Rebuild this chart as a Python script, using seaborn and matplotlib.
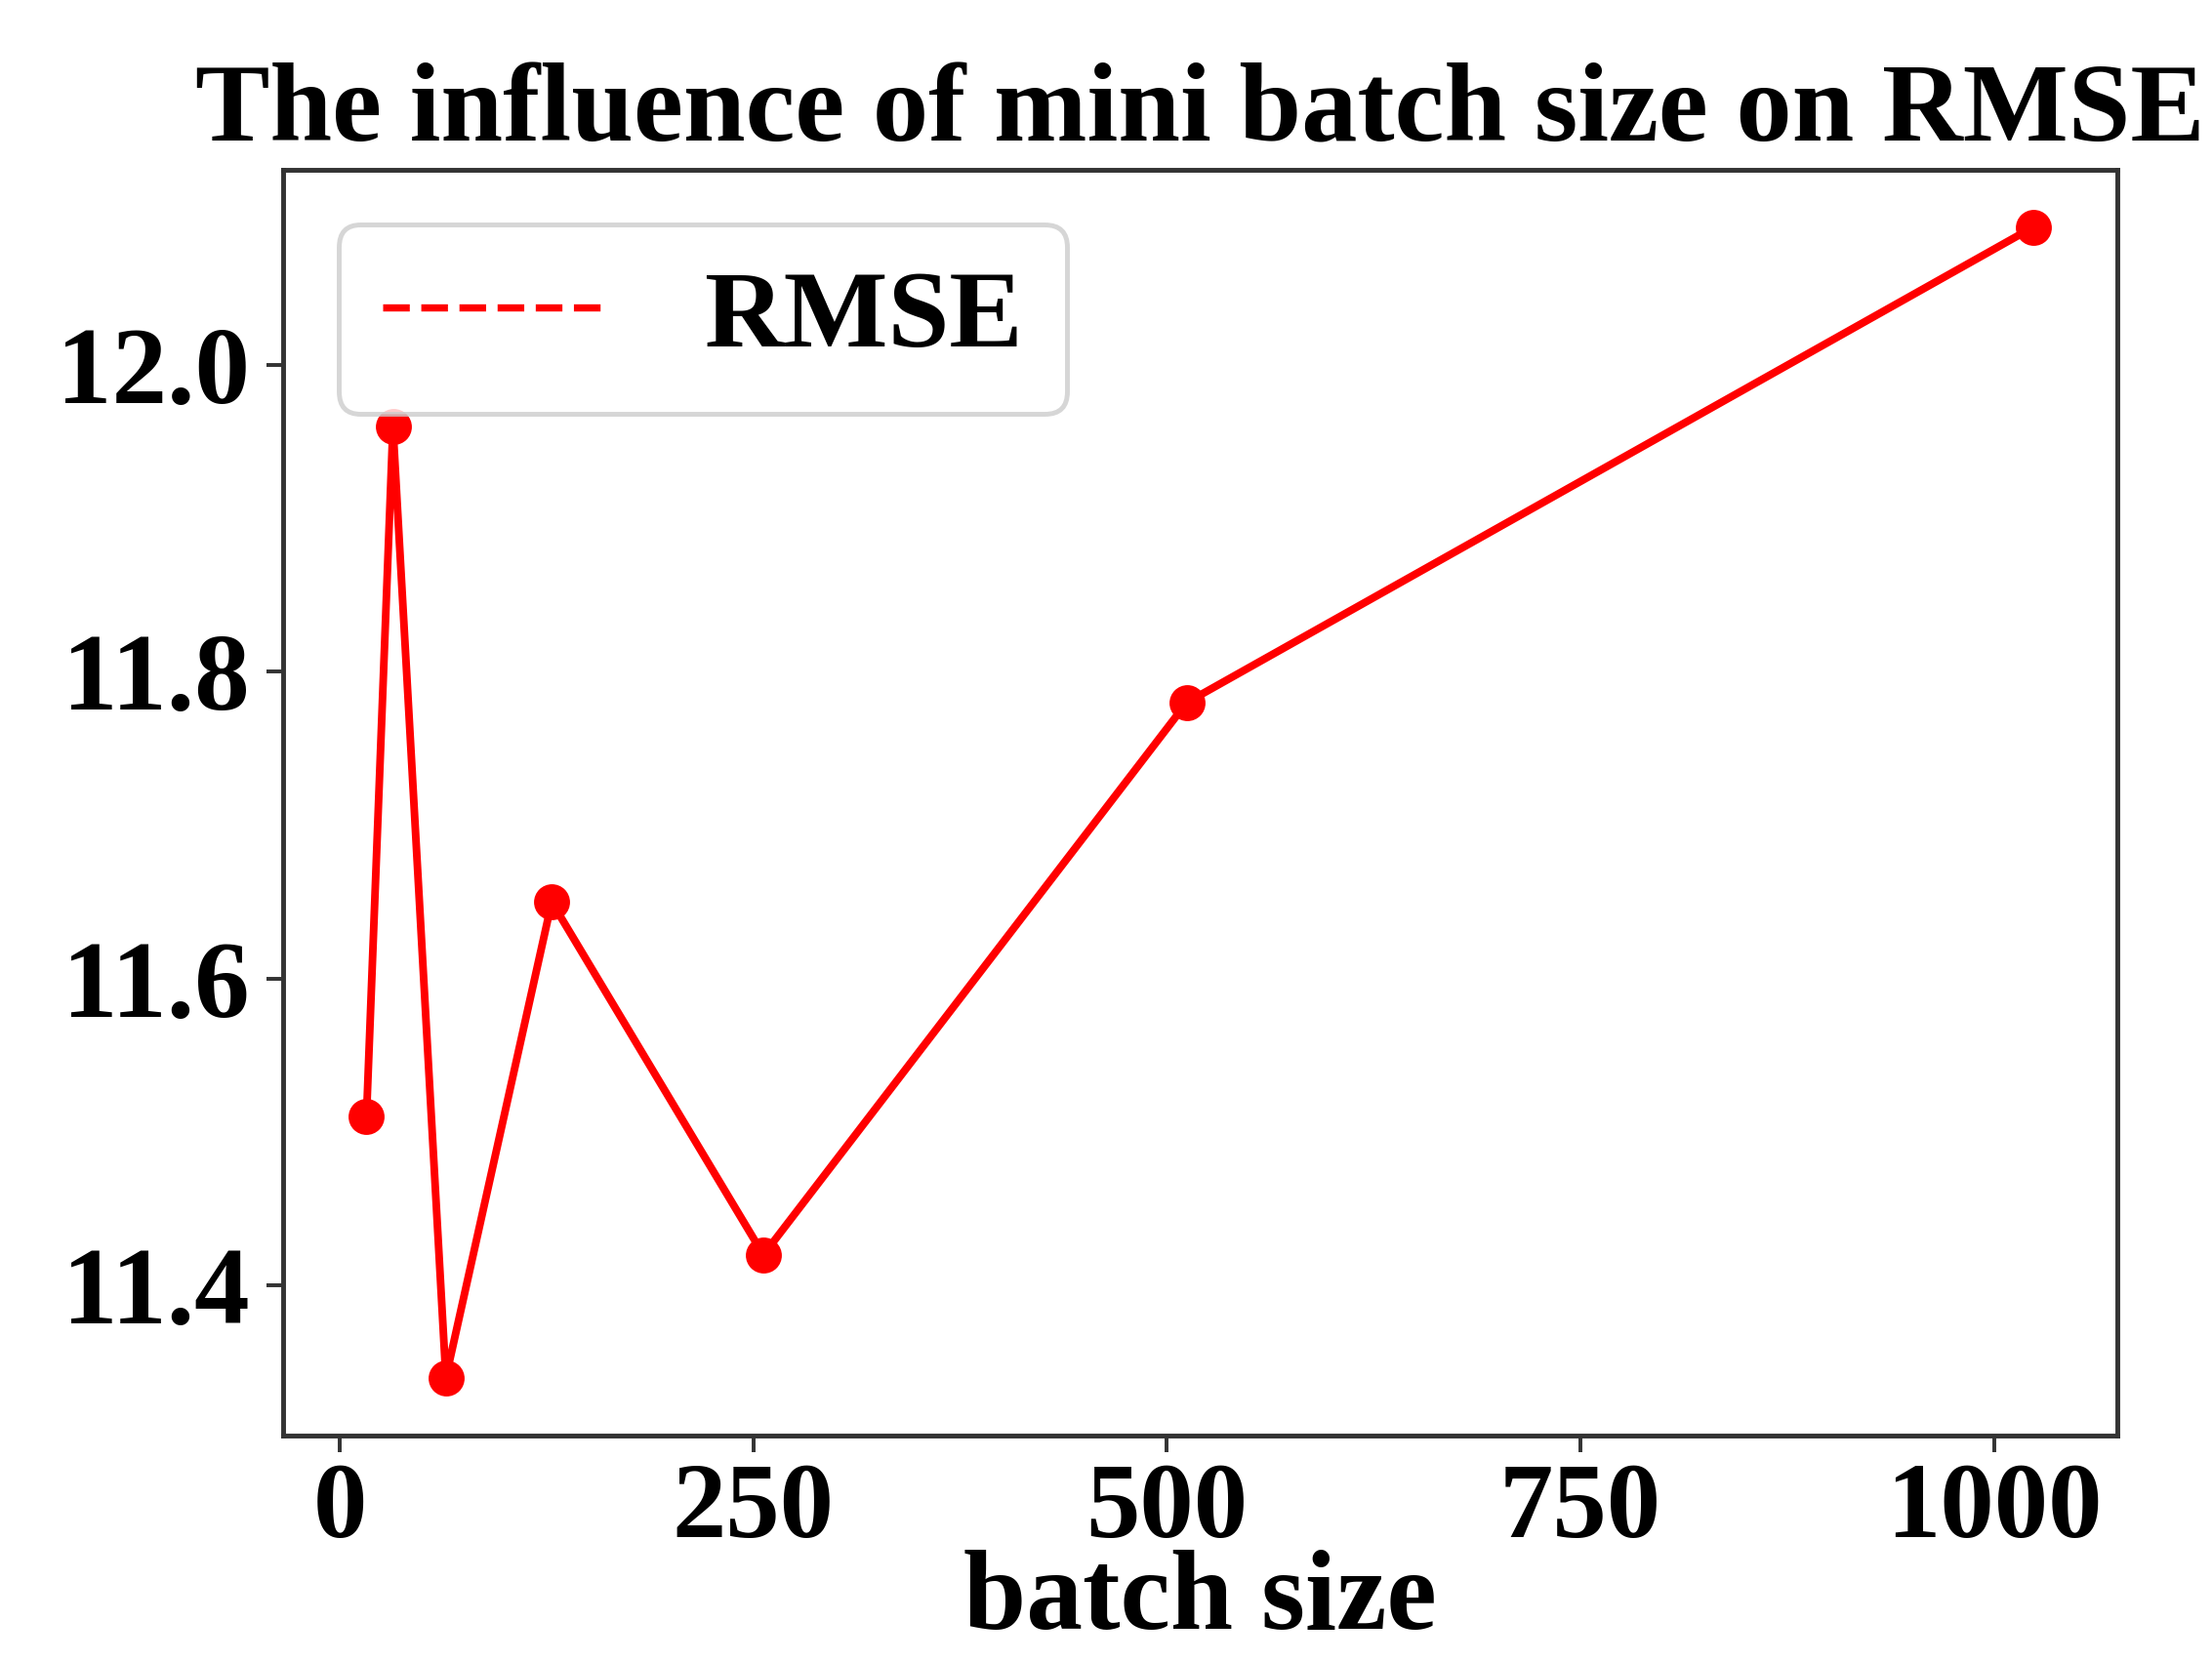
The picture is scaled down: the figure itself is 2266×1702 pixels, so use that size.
import matplotlib
matplotlib.use("Agg")
import matplotlib.pyplot as plt
from matplotlib.lines import Line2D
import pandas as pd
import seaborn as sns

# values
batch_sizes = [16, 32, 64, 128, 256, 512, 1024]
rmse_values = [11.51, 11.96, 11.34, 11.65, 11.42, 11.78, 12.09]
y_ticks = [11.4, 11.6, 11.8, 12.0]
x_ticks = [0, 250, 500, 750, 1000]

df = pd.DataFrame({"batch size": batch_sizes, "RMSE": rmse_values})

sns.set_style("ticks")
plt.rcParams["font.family"] = ["Liberation Serif", "DejaVu Serif"]
plt.rcParams["font.weight"] = "bold"
plt.rcParams["text.color"] = "black"
plt.rcParams["axes.labelcolor"] = "black"
plt.rcParams["xtick.labelcolor"] = "black"
plt.rcParams["ytick.labelcolor"] = "black"

fig, ax = plt.subplots(figsize=(2266 / 354, 1702 / 354), dpi=354)
fig.subplots_adjust(left=0.128, right=0.957, top=0.898, bottom=0.136)

sns.lineplot(data=df, x="batch size", y="RMSE", color="red", marker="o",
             markersize=7.5, markeredgewidth=0, linewidth=1.6, ax=ax)

for s in ax.spines.values():
    s.set_visible(True)
    s.set_color("#333333")
    s.set_linewidth(1.0)

ax.set_xticks(x_ticks)
ax.set_yticks(y_ticks)
ax.set_yticklabels([f"{v:.1f}" for v in y_ticks])
ax.tick_params(labelsize=23, length=3.5, width=0.8, color="#333333")
ax.tick_params(axis="x", pad=2, labelsize=22.5)
for lab in ax.get_xticklabels() + ax.get_yticklabels():
    lab.set_fontweight("bold")

ax.set_title("The influence of mini batch size on RMSE", fontsize=23.3, fontweight="bold")
ax.set_xlabel("batch size", fontsize=23.5, fontweight="bold", labelpad=-2)
ax.set_ylabel("")

handle = Line2D([], [], color="red", linestyle="--", linewidth=1.5)
ax.legend([handle], ["RMSE"], loc="upper left",
          prop={"weight": "bold", "size": 23}, handlelength=2.05, handletextpad=0.86)

fig.savefig("out.png", dpi=354)
